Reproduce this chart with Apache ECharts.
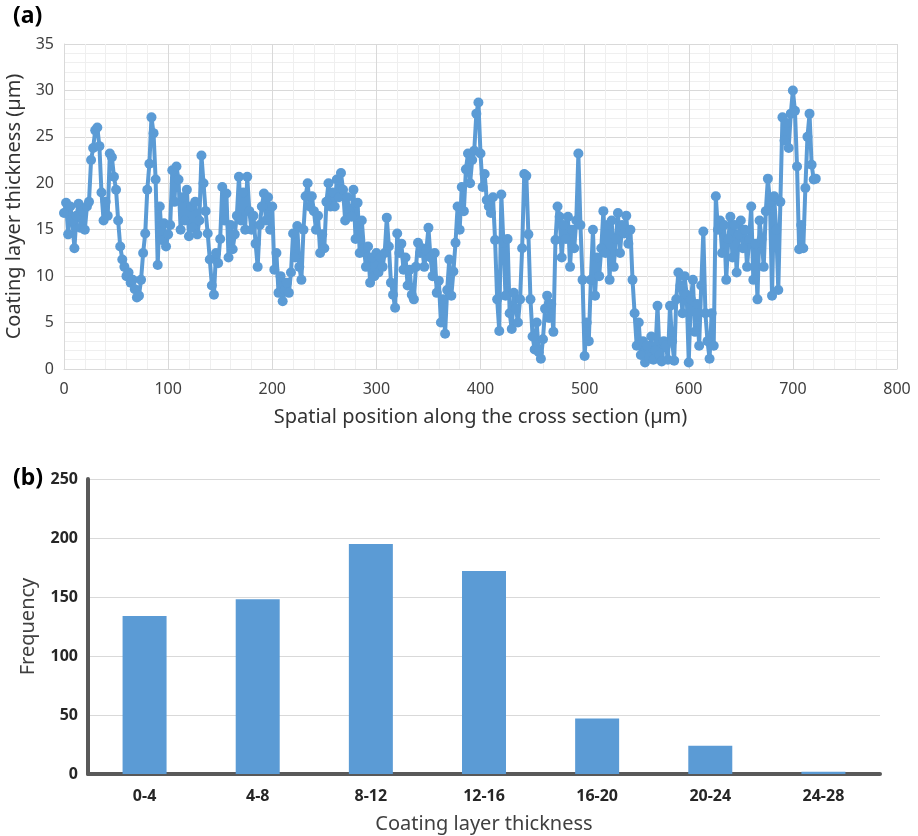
<!DOCTYPE html>
<html>
<head>
<meta charset="utf-8">
<title>Coating layer thickness</title>
<script src="https://cdn.jsdelivr.net/npm/echarts@6/dist/echarts.min.js"></script>
<style>
  html, body { margin: 0; padding: 0; background: #fff; }
  #chart { width: 918px; height: 836px; }
</style>
</head>
<body>
<div id="chart"></div>
<script>
// (a) thickness profile, one reading every 2 µm from 0 µm
const sampleStep = 2
const thickness = [
  16.8, 17.9, 14.5, 17.5, 16.0, 13.0, 16.5, 17.8, 15.2, 17.0,
  15.0, 17.5, 18.0, 22.5, 23.8, 25.7, 26.0, 24.0, 19.0, 16.0,
  18.0, 16.5, 23.2, 22.8, 20.7, 19.3, 16.0, 13.2, 11.8, 11.0,
  10.0, 10.4, 9.3, 9.6, 8.6, 7.7, 7.9, 9.6, 12.5, 14.6,
  19.3, 22.1, 27.1, 25.4, 20.4, 11.2, 17.5, 13.9, 15.7, 13.2,
  14.5, 15.5, 21.4, 18.0, 21.8, 20.4, 15.0, 18.5, 16.0, 19.3,
  14.3, 17.5, 15.2, 18.0, 14.5, 16.0, 23.0, 20.0, 17.0, 14.6,
  11.8, 9.0, 8.0, 12.5, 11.4, 14.0, 19.6, 16.0, 18.9, 12.0,
  15.5, 12.9, 14.5, 16.5, 20.7, 16.0, 19.0, 15.0, 20.7, 17.0,
  15.0, 16.5, 13.5, 11.0, 15.5, 17.5, 18.9, 16.0, 18.5, 15.0,
  17.5, 10.7, 12.5, 8.2, 10.0, 7.3, 8.5, 9.3, 8.2, 10.4,
  14.6, 12.0, 15.4, 11.0, 9.6, 15.0, 18.6, 20.0, 17.5, 18.6,
  17.0, 15.0, 16.5, 12.5, 14.5, 13.0, 18.0, 20.0, 17.5, 19.0,
  17.5, 20.4, 18.5, 21.1, 19.3, 16.0, 18.5, 17.0, 16.4, 19.3,
  14.0, 17.9, 12.5, 16.0, 13.0, 11.0, 13.2, 9.3, 12.0, 10.0,
  12.5, 10.4, 12.0, 11.0, 12.5, 16.3, 13.2, 9.3, 8.0, 6.6,
  14.6, 12.5, 13.5, 10.7, 12.0, 9.0, 10.7, 8.0, 7.5, 11.0,
  13.6, 12.5, 13.0, 11.0, 12.8, 15.2, 12.0, 10.0, 12.5, 8.2,
  9.5, 5.0, 7.5, 3.8, 8.5, 11.8, 7.9, 10.5, 13.6, 17.5,
  15.0, 19.6, 17.0, 21.5, 23.2, 20.0, 22.5, 23.5, 27.5, 28.7,
  23.2, 19.6, 21.0, 18.2, 17.5, 16.8, 18.5, 13.9, 7.5, 4.1,
  18.8, 13.6, 7.9, 14.0, 6.0, 4.3, 8.2, 6.5, 5.0, 7.5,
  13.0, 21.0, 20.8, 14.5, 7.5, 3.5, 2.1, 5.0, 1.8, 1.1,
  3.2, 6.5, 7.9, 5.5, 7.0, 4.0, 13.9, 17.5, 16.4, 12.0,
  15.5, 14.0, 16.4, 11.0, 15.0, 13.0, 16.0, 23.2, 15.5, 9.6,
  1.4, 5.0, 3.0, 9.6, 15.0, 7.9, 12.0, 10.0, 13.0, 17.0,
  12.5, 15.5, 9.6, 16.0, 11.0, 14.0, 16.8, 12.5, 15.5, 14.6,
  16.5, 13.5, 15.0, 9.6, 6.0, 2.5, 5.0, 1.5, 3.0, 0.7,
  2.5, 1.2, 3.5, 1.0, 2.0, 6.8, 1.5, 0.8, 3.0, 2.5,
  1.0, 6.8, 3.0, 0.9, 7.5, 10.4, 9.0, 6.0, 10.0, 8.0,
  0.7, 7.5, 9.6, 4.0, 7.0, 2.5, 9.0, 14.8, 6.0, 3.0,
  1.1, 6.0, 2.5, 18.6, 15.0, 16.0, 12.5, 15.5, 9.6, 14.0,
  16.4, 12.0, 15.5, 10.4, 14.5, 16.0, 13.0, 15.0, 11.0, 14.0,
  17.5, 9.6, 13.5, 7.5, 16.0, 14.0, 11.0, 17.0, 20.5, 18.0,
  7.9, 18.6, 15.0, 8.5, 18.0, 27.1, 24.6, 26.5, 23.8, 27.5,
  30.0, 27.8, 21.8, 12.9, 15.5, 13.0, 19.5, 25.0, 27.5, 22.0,
  20.4, 20.5
]

// (b) histogram
const bins = ['0-4', '4-8', '8-12', '12-16', '16-20', '20-24', '24-28']
const frequency = [134, 148, 195, 172, 47, 24, 2]

const blue = '#5b9bd5'
const font = 'Noto Sans'

const profile = thickness.map((v, i) => [i * sampleStep, v])

const chart = echarts.init(document.getElementById('chart'))
chart.setOption({
  animation: false,
  textStyle: { fontFamily: font },
  title: [
    { text: '(a)', left: 8, top: 0, textStyle: { fontSize: 23, fontWeight: 'bold', color: '#000', fontFamily: font } },
    { text: '(b)', left: 8, top: 462, textStyle: { fontSize: 23, fontWeight: 'bold', color: '#000', fontFamily: font } }
  ],
  grid: [
    { left: 64, top: 44, width: 833, height: 325, outerBoundsMode: 'none' },
    { left: 88, top: 479, width: 792, height: 295, outerBoundsMode: 'none' }
  ],
  xAxis: [
    {
      gridIndex: 0,
      type: 'value',
      min: 0,
      max: 800,
      interval: 100,
      name: 'Spatial position along the cross section (µm)',
      nameLocation: 'middle',
      nameGap: 38,
      nameTextStyle: { fontSize: 20, color: '#333' },
      axisLine: { show: true, lineStyle: { color: '#d9d9d9', width: 1 } },
      axisTick: { show: false },
      axisLabel: { fontSize: 16, color: '#404040', margin: 12 },
      splitLine: { show: true, lineStyle: { color: '#d9d9d9', width: 1 } },
      minorTick: { show: false, splitNumber: 5 },
      minorSplitLine: { show: true, lineStyle: { color: '#efefef', width: 1 } }
    },
    {
      gridIndex: 1,
      type: 'category',
      data: bins,
      name: 'Coating layer thickness',
      nameLocation: 'middle',
      nameGap: 40,
      nameTextStyle: { fontSize: 20, color: '#404040' },
      axisLine: { show: true, lineStyle: { color: '#595959', width: 4 } },
      axisTick: { show: false },
      axisLabel: { fontSize: 16, fontWeight: 'bold', color: '#262626', margin: 14 },
      splitLine: { show: false }
    }
  ],
  yAxis: [
    {
      gridIndex: 0,
      type: 'value',
      min: 0,
      max: 35,
      interval: 5,
      name: 'Coating layer thickness (µm)',
      nameLocation: 'middle',
      nameGap: 40,
      nameTextStyle: { fontSize: 20, color: '#333' },
      axisLine: { show: true, lineStyle: { color: '#d9d9d9', width: 1 } },
      axisTick: { show: false },
      axisLabel: { fontSize: 16, color: '#404040', margin: 10 },
      splitLine: { show: true, lineStyle: { color: '#d9d9d9', width: 1 } },
      minorTick: { show: false, splitNumber: 5 },
      minorSplitLine: { show: true, lineStyle: { color: '#efefef', width: 1 } }
    },
    {
      gridIndex: 1,
      type: 'value',
      min: 0,
      max: 250,
      interval: 50,
      name: 'Frequency',
      nameLocation: 'middle',
      nameGap: 50,
      nameTextStyle: { fontSize: 20, color: '#404040' },
      axisLine: { show: true, lineStyle: { color: '#595959', width: 4 } },
      axisTick: { show: false },
      axisLabel: { fontSize: 16, fontWeight: 'bold', color: '#262626', margin: 10 },
      splitLine: { show: true, lineStyle: { color: '#d9d9d9', width: 1 } }
    }
  ],
  series: [
    {
      type: 'line',
      xAxisIndex: 0,
      yAxisIndex: 0,
      data: profile,
      symbol: 'circle',
      symbolSize: 10,
      showAllSymbol: true,
      lineStyle: { color: blue, width: 4 },
      itemStyle: { color: blue }
    },
    {
      type: 'bar',
      xAxisIndex: 1,
      yAxisIndex: 1,
      data: frequency,
      barWidth: 44,
      itemStyle: { color: blue }
    }
  ]
})
</script>
</body>
</html>
